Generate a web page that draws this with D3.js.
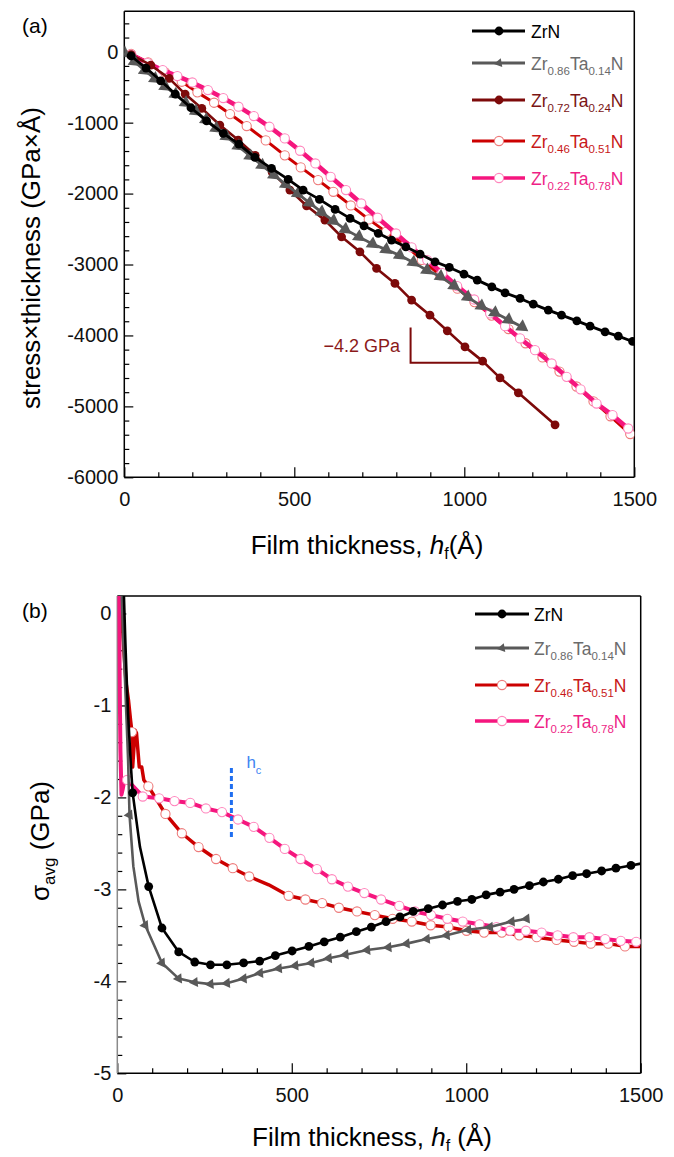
<!DOCTYPE html>
<html><head><meta charset="utf-8">
<script src="https://cdn.jsdelivr.net/npm/d3@7"></script>
<style>
html,body{margin:0;padding:0;background:#fff;}
svg{display:block;font-family:"Liberation Sans",Arial,Helvetica,sans-serif;}
</style></head><body>
<svg id="chart" width="674" height="1157"></svg>
<script>
// ---------- Panel (a): stress x thickness (GPa·Å) vs film thickness h_f (Å) ----------
const zrnA = [[20,-60],[64,-230],[107,-410],[150,-597],[196,-790],[242,-975],[291,-1151],[337,-1302],[384,-1490],[433,-1645],[482,-1800],[526,-1951],[574,-2082],[620,-2223],[664,-2350],[705,-2455],[747,-2560],[786,-2656],[828,-2750],[870,-2853],[914,-2962],[956,-3041],[999,-3135],[1038,-3220],[1081,-3315],[1120,-3400],[1164,-3478],[1203,-3559],[1247,-3643],[1286,-3714],[1331,-3794],[1370,-3869],[1414,-3949],[1453,-4010],[1495,-4085]];
const zr86A = [[0,-20],[30,-140],[60,-265],[90,-380],[120,-490],[150,-600],[180,-720],[210,-840],[240,-960],[270,-1080],[300,-1195],[335,-1330],[370,-1470],[405,-1600],[440,-1740],[475,-1870],[510,-2000],[545,-2130],[580,-2260],[615,-2385],[650,-2505],[690,-2610],[730,-2710],[770,-2790],[810,-2870],[850,-2970],[890,-3080],[930,-3170],[970,-3300],[1010,-3460],[1050,-3585],[1090,-3680],[1130,-3780],[1170,-3880]];
const zr72A = [[20,-40],[78,-190],[132,-376],[179,-597],[228,-799],[281,-1034],[335,-1245],[385,-1460],[435,-1700],[487,-1950],[536,-2172],[590,-2374],[639,-2609],[693,-2821],[742,-3055],[796,-3267],[845,-3502],[899,-3714],[950,-3935],[1002,-4161],[1054,-4362],[1105,-4598],[1159,-4809],[1267,-5260]];
const zr46A = [[20,-30],[70,-150],[120,-290],[169,-423],[215,-573],[264,-719],[311,-879],[360,-1048],[416,-1250],[472,-1461],[519,-1631],[570,-1810],[615,-1975],[666,-2167],[719,-2364],[770,-2540],[826,-2726],[875,-2935],[929,-3150],[980,-3340],[1030,-3530],[1080,-3720],[1130,-3910],[1180,-4110],[1230,-4310],[1280,-4510],[1330,-4720],[1380,-4930],[1430,-5140],[1488,-5390]];
const zr22A = [[20,-40],[68,-160],[113,-258],[156,-343],[200,-433],[246,-540],[291,-653],[336,-775],[381,-907],[427,-1058],[472,-1222],[517,-1396],[562,-1575],[607,-1763],[652,-1950],[697,-2139],[745,-2340],[799,-2562],[845,-2759],[891,-2938],[935,-3120],[979,-3305],[1029,-3493],[1076,-3690],[1120,-3870],[1164,-4042],[1208,-4207],[1257,-4395],[1301,-4584],[1342,-4760],[1389,-4960],[1436,-5124],[1482,-5312]];
// slope guide for the Zr0.72Ta0.24N curve
const slopeGuideA = [[842,-3887],[842,-4386],[1051,-4386]];
const slopeLabelA = "\u22124.2 GPa";

const xTicksA = [0,500,1000,1500];
const yTicksA = [0,-1000,-2000,-3000,-4000,-5000,-6000];

// ---------- Panel (b): average stress (GPa) vs film thickness ----------
// marked samples
const zrnB = [[44,-1.95],[90,-2.97],[128,-3.42],[176,-3.68],[222,-3.79],[267,-3.82],[314,-3.82],[362,-3.80],[408,-3.78],[453,-3.72],[501,-3.67],[549,-3.62],[593,-3.57],[639,-3.52],[685,-3.46],[728,-3.41],[770,-3.35],[810,-3.30],[848,-3.24],[891,-3.21],[932,-3.17],[975,-3.13],[1016,-3.11],[1057,-3.06],[1097,-3.03],[1137,-3.00],[1181,-2.96],[1221,-2.92],[1264,-2.89],[1305,-2.85],[1345,-2.83],[1388,-2.80],[1429,-2.77],[1472,-2.74]];
const zr86B = [[35,-2.19],[80,-3.39],[128,-3.80],[176,-3.97],[222,-4.01],[267,-4.03],[314,-4.02],[362,-3.97],[409,-3.91],[463,-3.86],[510,-3.83],[556,-3.80],[606,-3.75],[654,-3.71],[716,-3.66],[777,-3.63],[829,-3.59],[887,-3.54],[944,-3.50],[1006,-3.44],[1068,-3.41],[1130,-3.35],[1173,-3.32]];
const zr46B = [[42,-1.29],[89,-1.88],[138,-2.18],[185,-2.39],[233,-2.54],[283,-2.67],[331,-2.77],[378,-2.86],[491,-3.07],[539,-3.11],[587,-3.15],[635,-3.20],[687,-3.24],[738,-3.28],[789,-3.32],[844,-3.35],[898,-3.39],[949,-3.41],[1001,-3.45],[1051,-3.47],[1102,-3.47],[1152,-3.50],[1202,-3.52],[1259,-3.55],[1309,-3.57],[1357,-3.59],[1407,-3.59],[1455,-3.62]];
const zr22B = [[28,-1.81],[73,-1.99],[120,-2.01],[164,-2.04],[209,-2.06],[254,-2.12],[300,-2.16],[346,-2.24],[391,-2.32],[436,-2.44],[480,-2.56],[525,-2.67],[572,-2.78],[615,-2.89],[661,-2.97],[708,-3.04],[756,-3.11],[808,-3.18],[853,-3.24],[899,-3.28],[946,-3.32],[990,-3.35],[1038,-3.38],[1087,-3.41],[1126,-3.45],[1171,-3.45],[1216,-3.47],[1262,-3.50],[1307,-3.52],[1353,-3.52],[1398,-3.54],[1443,-3.56],[1487,-3.57]];
// unmarked samples of the same traces (initial transient and trailing ends)
const zrnBTrace = [[19,0.19],[23,-0.3],[27,-0.72],[31,-1.1],[36,-1.45],[40,-1.72],[65,-2.54],[1500,-2.72]];
const zr86BTrace = [[13,0.19],[17,-0.3],[22,-0.72],[27,-1.2],[31,-1.6],[46,-2.75],[61,-3.13]];
const zr46BTrace = [[10,0.19],[18,-0.35],[25,-0.75],[32,-0.94],[38,-1.16],[44,-1.67],[51,-1.27],[55,-1.3],[63,-1.67],[70,-1.67],[76,-1.81],[434,-2.95],[1500,-3.62]];
const zr22BTrace = [[5,0.19],[7,-0.8],[9,-1.5],[12,-1.97],[16,-1.9],[20,-1.82]];
// critical thickness marker
const hcB = 327;
const hcRangeB = [-1.68,-2.46];

const xTicksB = [0,500,1000,1500];
const yTicksB = [0,-1,-2,-3,-4,-5];

// legend labels: alternating normal / subscript parts
const labZrN = ["ZrN"];
const lab86 = ["Zr","0.86","Ta","0.14","N"];
const lab72 = ["Zr","0.72","Ta","0.24","N"];
const lab46 = ["Zr","0.46","Ta","0.51","N"];
const lab22 = ["Zr","0.22","Ta","0.78","N"];

// ---------- drawing ----------
const svg = d3.select("#chart");
const col = {black:"#000000", grey:"#595959", dark:"#7d0a0a", red:"#cc0000", pink:"#f5167e"};
const ring = {red:"#ee7b7b", pink:"#ff86bd"};
const txt = {black:"#000000", grey:"#6b6b6b", dark:"#7a1515", red:"#c81818", pink:"#ee1f86"};

function frameAndAxes(g, x, y, xt, xMinor, yt, yMinor, leftStroke) {
  const [x0,x1] = x.range(), [y1,y0] = y.range();
  // minor ticks
  g.append("g").attr("transform",`translate(0,${y1})`)
    .call(d3.axisBottom(x).tickValues(xMinor).tickSize(-5).tickFormat(""))
    .call(s=>s.select(".domain").remove());
  g.append("g").attr("transform",`translate(${x0},0)`)
    .call(d3.axisLeft(y).tickValues(yMinor).tickSize(-5).tickFormat(""))
    .call(s=>s.select(".domain").remove());
  // major ticks + labels
  g.append("g").attr("transform",`translate(0,${y1})`)
    .call(d3.axisBottom(x).tickValues(xt).tickSize(-10).tickPadding(15).tickFormat(d=>String(d)))
    .call(s=>s.select(".domain").remove())
    .call(s=>s.selectAll("text").attr("font-size",20).attr("fill","#111").attr("font-family","Liberation Sans, Arial, sans-serif"));
  g.append("g").attr("transform",`translate(${x0},0)`)
    .call(d3.axisLeft(y).tickValues(yt).tickSize(-9).tickPadding(6).tickFormat(d=>String(d)))
    .call(s=>s.select(".domain").remove())
    .call(s=>s.selectAll("text").attr("font-size",20).attr("fill","#111").attr("font-family","Liberation Sans, Arial, sans-serif"));
  g.selectAll(".tick line").attr("stroke","#000").attr("stroke-width",1.2);
  // frame
  const fr = g.append("g").attr("fill","none").attr("stroke-width",1.5);
  fr.append("line").attr("x1",x0).attr("x2",x1).attr("y1",y0).attr("y2",y0).attr("stroke","#000");
  fr.append("line").attr("x1",x0).attr("x2",x1).attr("y1",y1).attr("y2",y1).attr("stroke","#000");
  fr.append("line").attr("x1",x1).attr("x2",x1).attr("y1",y0).attr("y2",y1).attr("stroke","#000");
  fr.append("line").attr("x1",x0).attr("x2",x0).attr("y1",y0).attr("y2",y1).attr("stroke",leftStroke);
}

function clip(id, x, y) {
  const [x0,x1] = x.range(), [y1,y0] = y.range();
  svg.append("clipPath").attr("id",id).append("rect")
    .attr("x",x0).attr("y",y0).attr("width",x1-x0).attr("height",y1-y0);
}

function drawSeries(g, x, y, pts, trace, color, width, marker) {
  const all = pts.concat(trace).sort((a,b)=>a[0]-b[0]);
  const line = d3.line().x(d=>x(d[0])).y(d=>y(d[1]));
  g.append("path").datum(all).attr("d",line).attr("fill","none")
    .attr("stroke",color).attr("stroke-width",width).attr("stroke-linejoin","round");
  const m = g.append("g");
  pts.forEach(d=>drawMarker(m, x(d[0]), y(d[1]), marker));
}

function drawMarker(g, px, py, mk) {
  if (mk.type === "dot") {
    g.append("circle").attr("cx",px).attr("cy",py).attr("r",mk.r).attr("fill",mk.fill);
  } else if (mk.type === "ring") {
    g.append("circle").attr("cx",px).attr("cy",py).attr("r",mk.r).attr("fill","#fff")
      .attr("stroke",mk.stroke).attr("stroke-width",1.1);
  } else {
    g.append("path").attr("d",d3.symbol(d3.symbolTriangle, mk.size)())
      .attr("transform",`translate(${px},${py}) rotate(${mk.rot})`).attr("fill",mk.fill);
  }
}

function legend(g, rows, lx1, lx2, lxm, tx) {
  rows.forEach(r=>{
    g.append("line").attr("x1",lx1).attr("x2",lx2).attr("y1",r.y).attr("y2",r.y)
      .attr("stroke",r.color).attr("stroke-width",r.width);
    drawMarker(g, lxm, r.y, r.marker);
    const t = g.append("text").attr("x",tx).attr("y",r.y+7).attr("font-size",17.5).attr("fill",r.text);
    r.label.forEach((p,i)=>{
      if (i%2===0) t.append("tspan").attr("dy", i===0?0:-5).text(p);
      else t.append("tspan").attr("dy",5).attr("font-size",11.5).text(p);
    });
  });
}

// ===== Panel (a) =====
const xA = d3.scaleLinear([0,1500],[124.3,634.3]);
const yA = d3.scaleLinear([-6000,570],[477.3,11.3]);
clip("clipA", xA, yA);
const gA = svg.append("g");
frameAndAxes(gA, xA, yA, xTicksA, d3.range(100,1500,100).filter(v=>v%500),
  yTicksA, d3.range(400,-6000,-200).filter(v=>v%1000), "#000");

const dA = gA.append("g").attr("clip-path","url(#clipA)");
drawSeries(dA, xA, yA, zr46A, [], col.red, 3, {type:"ring", r:4.6, stroke:ring.red});
drawSeries(dA, xA, yA, zr22A, [], col.pink, 4.5, {type:"ring", r:4.6, stroke:ring.pink});
drawSeries(dA, xA, yA, zr72A, [], col.dark, 2.6, {type:"dot", r:4.4, fill:col.dark});
drawSeries(dA, xA, yA, zr86A, [], col.grey, 2.8, {type:"tri", size:75, rot:125, fill:col.grey});
drawSeries(dA, xA, yA, zrnA, [], col.black, 2.8, {type:"dot", r:4.4, fill:col.black});

gA.append("path").datum(slopeGuideA)
  .attr("d", d3.line().x(d=>xA(d[0])).y(d=>yA(d[1])))
  .attr("fill","none").attr("stroke",col.dark).attr("stroke-width",2);
gA.append("text").attr("x",xA(811)).attr("y",yA(-4231)).attr("text-anchor","end")
  .attr("font-size",18).attr("fill","#8b1a1a").text(slopeLabelA);

legend(gA.append("g"), [
  {y:31, label:labZrN, color:col.black, width:3, text:txt.black, marker:{type:"dot", r:4.4, fill:col.black}},
  {y:63, label:lab86, color:col.grey, width:3, text:txt.grey, marker:{type:"tri", size:34, rot:-100, fill:col.grey}},
  {y:100, label:lab72, color:col.dark, width:3, text:txt.dark, marker:{type:"dot", r:4.4, fill:col.dark}},
  {y:141, label:lab46, color:col.red, width:3, text:txt.red, marker:{type:"ring", r:4.6, stroke:ring.red}},
  {y:178, label:lab22, color:col.pink, width:3.5, text:txt.pink, marker:{type:"ring", r:4.6, stroke:ring.pink}}
], 472, 525, 499, 531);

svg.append("text").attr("x",22).attr("y",33).attr("font-size",21).text("(a)");
svg.append("text").attr("transform","translate(40,258) rotate(-90)").attr("text-anchor","middle")
  .attr("font-size",26).text("stress\u00D7thickness (GPa\u00D7\u00C5)");
{
  const t = svg.append("text").attr("x",367).attr("y",554).attr("text-anchor","middle").attr("font-size",26);
  t.append("tspan").text("Film thickness, ");
  t.append("tspan").attr("font-style","italic").text("h");
  t.append("tspan").attr("dy",5).attr("font-size",16).text("f");
  t.append("tspan").attr("dy",-5).text("(\u00C5)");
}

// ===== Panel (b) =====
const xB = d3.scaleLinear([0,1500],[117.3,640.7]);
const yB = d3.scaleLinear([-5,0.19],[1073.3,596]);
clip("clipB", xB, yB);
const gB = svg.append("g");
frameAndAxes(gB, xB, yB, xTicksB, d3.range(100,1500,100).filter(v=>v%500),
  yTicksB, d3.range(-48,1,2).filter(k=>k%10).map(k=>k/10), "#8a8a8a");

const dB = gB.append("g").attr("clip-path","url(#clipB)");
drawSeries(dB, xB, yB, zr46B, zr46BTrace, col.red, 3.5, {type:"ring", r:4.6, stroke:ring.red});
drawSeries(dB, xB, yB, zr22B, zr22BTrace, col.pink, 4, {type:"ring", r:4.6, stroke:ring.pink});
drawSeries(dB, xB, yB, zr86B, zr86BTrace, col.grey, 2.6, {type:"tri", size:45, rot:-95, fill:col.grey});
drawSeries(dB, xB, yB, zrnB, zrnBTrace, col.black, 2.6, {type:"dot", r:4.4, fill:col.black});

gB.append("line").attr("x1",xB(hcB)).attr("x2",xB(hcB)).attr("y1",yB(hcRangeB[0])).attr("y2",yB(hcRangeB[1]))
  .attr("stroke","#1f6ef0").attr("stroke-width",3).attr("stroke-dasharray","5,3");
{
  const t = gB.append("text").attr("x",xB(hcB)+15).attr("y",yB(hcRangeB[0])).attr("font-size",17).attr("fill","#3d84f2");
  t.append("tspan").text("h");
  t.append("tspan").attr("dy",6).attr("font-size",11).text("c");
}

legend(gB.append("g"), [
  {y:614, label:labZrN, color:col.black, width:3, text:txt.black, marker:{type:"dot", r:4.4, fill:col.black}},
  {y:648, label:lab86, color:col.grey, width:3, text:txt.grey, marker:{type:"tri", size:34, rot:-100, fill:col.grey}},
  {y:685, label:lab46, color:col.red, width:3, text:txt.red, marker:{type:"ring", r:4.6, stroke:ring.red}},
  {y:721, label:lab22, color:col.pink, width:3.5, text:txt.pink, marker:{type:"ring", r:4.6, stroke:ring.pink}}
], 475, 529, 502, 534);

svg.append("text").attr("x",22).attr("y",618).attr("font-size",21).text("(b)");
{
  const t = svg.append("text").attr("transform","translate(49,841) rotate(-90)").attr("text-anchor","middle").attr("font-size",26);
  t.append("tspan").text("\u03C3");
  t.append("tspan").attr("dy",6).attr("font-size",17).text("avg");
  t.append("tspan").attr("dy",-6).text(" (GPa)");
}
{
  const t = svg.append("text").attr("x",372).attr("y",1146).attr("text-anchor","middle").attr("font-size",26);
  t.append("tspan").text("Film thickness, ");
  t.append("tspan").attr("font-style","italic").text("h");
  t.append("tspan").attr("dy",5).attr("font-size",16).text("f");
  t.append("tspan").attr("dy",-5).text(" (\u00C5)");
}
</script>
</body></html>
